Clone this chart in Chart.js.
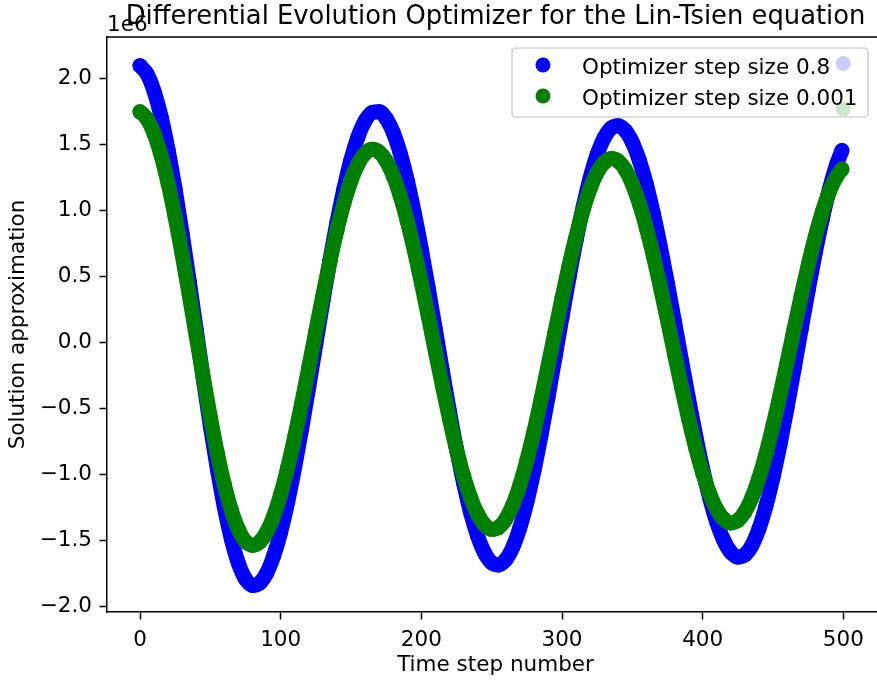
<!DOCTYPE html>
<html>
<head>
<meta charset="utf-8">
<title>Differential Evolution Optimizer for the Lin-Tsien equation</title>
<script src="https://cdn.jsdelivr.net/npm/chart.js@4.4.1/dist/chart.umd.min.js"></script>
<style>
	html, body { margin: 0; padding: 0; background: #fff; overflow: hidden; }
	#wrap { width: 877px; height: 686px; overflow: hidden; }
	#myChart { display: block; }
</style>
</head>
<body>
<div id="wrap"><canvas id="myChart" width="886" height="686"></canvas></div>
<script>
// values are in units of 1e6 (offset label drawn top-left like matplotlib)
const steps = [
	0, 5, 10, 15, 20, 25, 30, 35, 40, 45, 50, 55, 60, 65, 70, 75, 80, 85, 90, 95,
	100, 105, 110, 115, 120, 125, 130, 135, 140, 145, 150, 155, 160, 165, 170, 175, 180, 185, 190, 195,
	200, 205, 210, 215, 220, 225, 230, 235, 240, 245, 250, 255, 260, 265, 270, 275, 280, 285, 290, 295,
	300, 305, 310, 315, 320, 325, 330, 335, 340, 345, 350, 355, 360, 365, 370, 375, 380, 385, 390, 395,
	400, 405, 410, 415, 420, 425, 430, 435, 440, 445, 450, 455, 460, 465, 470, 475, 480, 485, 490, 495,
	499,
]

// step size 0.8
const blueVals = [
	2.094, 2.031, 1.900, 1.706, 1.454, 1.156, 0.820, 0.461, 0.090, -0.280,
	-0.637, -0.962, -1.254, -1.495, -1.677, -1.795, -1.844, -1.826, -1.751, -1.620,
	-1.439, -1.211, -0.946, -0.652, -0.338, -0.015, 0.307, 0.618, 0.906, 1.163,
	1.384, 1.555, 1.676, 1.739, 1.745, 1.694, 1.587, 1.429, 1.224, 0.978,
	0.703, 0.404, 0.093, -0.221, -0.526, -0.811, -1.066, -1.291, -1.469, -1.598,
	-1.672, -1.689, -1.649, -1.554, -1.407, -1.213, -0.979, -0.711, -0.421, -0.117,
	0.190, 0.490, 0.771, 1.023, 1.244, 1.421, 1.548, 1.622, 1.639, 1.602,
	1.513, 1.375, 1.192, 0.970, 0.717, 0.442, 0.152, -0.143, -0.432, -0.707,
	-0.960, -1.182, -1.365, -1.503, -1.592, -1.629, -1.612, -1.540, -1.415, -1.241,
	-1.025, -0.775, -0.497, -0.203, 0.097, 0.393, 0.674, 0.930, 1.155, 1.338,
	1.451,
]

// step size 0.001
const greenVals = [
	1.745, 1.691, 1.579, 1.413, 1.200, 0.946, 0.661, 0.356, 0.042, -0.270,
	-0.568, -0.844, -1.082, -1.276, -1.420, -1.510, -1.540, -1.515, -1.440, -1.318,
	-1.153, -0.951, -0.717, -0.461, -0.191, 0.084, 0.355, 0.611, 0.847, 1.053,
	1.223, 1.349, 1.429, 1.460, 1.440, 1.373, 1.260, 1.106, 0.915, 0.695,
	0.450, 0.192, -0.073, -0.333, -0.582, -0.813, -1.014, -1.178, -1.303, -1.385,
	-1.419, -1.404, -1.342, -1.234, -1.084, -0.897, -0.680, -0.439, -0.184, 0.076,
	0.334, 0.579, 0.803, 1.000, 1.163, 1.284, 1.361, 1.390, 1.371, 1.306,
	1.197, 1.047, 0.862, 0.649, 0.412, 0.163, -0.092, -0.343, -0.581, -0.800,
	-0.992, -1.149, -1.267, -1.341, -1.370, -1.351, -1.286, -1.178, -1.029, -0.846,
	-0.633, -0.399, -0.152, 0.100, 0.348, 0.582, 0.797, 0.985, 1.138, 1.250,
	1.310,
]

// the lone points hiding behind the legend
const wrapStep = [500]
const blueWrap = [2.11]
const greenWrap = [1.765]

const xTicks = [0, 100, 200, 300, 400, 500]
const yTicks = [-2, -1.5, -1, -0.5, 0, 0.5, 1, 1.5, 2]

const labels = ['Optimizer step size 0.8', 'Optimizer step size 0.001']
const colors = ['#0000ff', '#008000']
const titleText = 'Differential Evolution Optimizer for the Lin-Tsien equation'

const FONT = '"DejaVu Sans", sans-serif'
Chart.defaults.font.family = FONT
Chart.defaults.font.size = 21.5
Chart.defaults.color = '#000'

const toPts = (xs, ys) => xs.map((x, i) => ({ x: x, y: ys[i] }))

const curve = (label, vals, color, order) => ({
	label: label,
	data: toPts(steps, vals),
	showLine: true,
	borderColor: color,
	backgroundColor: color,
	borderWidth: 15,
	borderCapStyle: 'round',
	borderJoinStyle: 'round',
	cubicInterpolationMode: 'monotone',
	pointRadius: 7.5,
	pointHoverRadius: 7.5,
	pointBorderWidth: 0,
	order: order,
})

const dot = (vals, color) => ({
	label: '',
	data: toPts(wrapStep, vals),
	showLine: false,
	backgroundColor: color,
	pointRadius: 7.5,
	pointBorderWidth: 0,
	order: 0,
})

// title, offset text, top spine and legend box inside the axes
const decor = {
	id: 'decor',
	afterDraw(chart) {
		const { ctx, chartArea } = chart
		ctx.save()
		ctx.strokeStyle = '#000'
		ctx.lineWidth = 1.5
		ctx.beginPath()
		ctx.moveTo(chartArea.left, chartArea.top)
		ctx.lineTo(chartArea.right, chartArea.top)
		ctx.stroke()

		ctx.fillStyle = '#000'
		ctx.textBaseline = 'alphabetic'
		ctx.font = '25.8px ' + FONT
		ctx.textAlign = 'center'
		ctx.fillText(titleText, (chartArea.left + chartArea.right) / 2, 24)
		ctx.font = '21.5px ' + FONT
		ctx.textAlign = 'left'
		ctx.fillText('1e6', chartArea.left, 31)

		// legend
		const w = 356, h = 69
		const x0 = chartArea.right - 16 - w
		const y0 = chartArea.top + 11
		ctx.beginPath()
		ctx.roundRect(x0, y0, w, h, 4)
		ctx.fillStyle = 'rgba(255,255,255,0.8)'
		ctx.fill()
		ctx.strokeStyle = 'rgba(204,204,204,0.8)'
		ctx.lineWidth = 1.7
		ctx.stroke()
		labels.forEach((lab, i) => {
			const cy = y0 + 17 + i * 31
			ctx.beginPath()
			ctx.arc(x0 + 31, cy, 7.5, 0, Math.PI * 2)
			ctx.fillStyle = colors[i]
			ctx.fill()
			ctx.fillStyle = '#000'
			ctx.fillText(lab, x0 + 70, cy + 9)
		})
		ctx.restore()
	},
}

const ctx = document.getElementById('myChart').getContext('2d')
const myChart = new Chart(ctx, {
	type: 'scatter',
	data: {
		datasets: [
			curve(labels[0], blueVals, colors[0], 3),
			curve(labels[1], greenVals, colors[1], 2),
			dot(blueWrap, colors[0]),
			dot(greenWrap, colors[1]),
		],
	},
	options: {
		responsive: false,
		animation: false,
		devicePixelRatio: 1,
		events: [],
		// canvas is wider than the page: the right side of the axes falls off the edge
		layout: { autoPadding: false, padding: { top: 37, right: 2, left: 0, bottom: 0 } },
		plugins: {
			legend: { display: false },
			tooltip: { enabled: false },
		},
		scales: {
			x: {
				type: 'linear',
				min: -23.46,
				max: 528.9,
				afterBuildTicks: (s) => {
					s.ticks = xTicks.map((v) => ({ value: v }))
				},
				afterFit: (s) => {
					s.height = 74
					s.paddingLeft = 0
					s.paddingRight = 0
				},
				grid: {
					drawOnChartArea: false,
					drawTicks: true,
					tickLength: 7.5,
					tickWidth: 1.5,
					tickColor: '#000',
				},
				border: { display: true, color: '#000', width: 1.5 },
				ticks: {
					padding: 8,
					color: '#000',
					maxRotation: 0,
					autoSkip: false,
					callback: (v) => String(v),
				},
				title: {
					display: true,
					text: 'Time step number',
					color: '#000',
					padding: { top: 0, bottom: 7.5 },
				},
			},
			y: {
				type: 'linear',
				min: -2.045,
				max: 2.311,
				afterBuildTicks: (s) => {
					s.ticks = yTicks.map((v) => ({ value: v }))
				},
				afterFit: (s) => {
					s.width = 107
				},
				grid: {
					drawOnChartArea: false,
					drawTicks: true,
					tickLength: 7.5,
					tickWidth: 1.5,
					tickColor: '#000',
				},
				border: { display: true, color: '#000', width: 1.5 },
				ticks: {
					padding: 7.5,
					color: '#000',
					autoSkip: false,
					callback: (v) => v.toFixed(1).replace('-', '\u2212'),
				},
				title: {
					display: true,
					text: 'Solution approximation',
					color: '#000',
					padding: { top: 5.5, bottom: 0 },
				},
			},
		},
	},
	plugins: [decor],
})
</script>
</body>
</html>
